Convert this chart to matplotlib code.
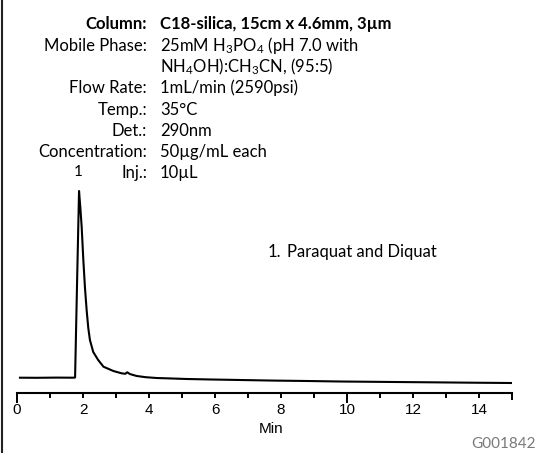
import matplotlib
matplotlib.use("Agg")
import matplotlib.pyplot as plt
from matplotlib.lines import Line2D

# chromatogram trace (time in min, signal in arbitrary units)
time_min = [0.09, 0.6, 1.2, 1.70, 1.76, 1.82, 1.88, 1.92, 1.96, 2.01, 2.06, 2.11, 2.16,
            2.21, 2.31, 2.46, 2.62, 2.78, 2.92, 3.05, 3.17, 3.28, 3.34, 3.42, 3.52,
            3.63, 3.9, 4.23, 4.7, 5.14, 5.9, 6.76, 7.8, 8.8, 9.79, 11.1, 12.5, 13.8, 14.97]
signal = [15.3, 15.2, 15.4, 15.3, 15.5, 110, 202, 185, 166, 133, 105, 83, 65,
          53, 41, 33, 26.3, 24, 22, 20.8, 19.7, 19.2, 20.7, 19.0, 18.0,
          17.0, 15.8, 15.0, 14.5, 14.0, 13.5, 13.0, 12.4, 12.0, 11.5, 11.1, 10.7, 10.3, 10.0]

peak_time = 1.85
peak_label = "1"

cond_labels = ["Column:", "Mobile Phase:", "", "Flow Rate:", "Temp.:", "Det.:",
               "Concentration:", "Inj.:"]
cond_values = ["C18-silica, 15cm x 4.6mm, 3µm",
               r"25mM H$_3$PO$_4$ (pH 7.0 with",
               r"NH$_4$OH):CH$_3$CN, (95:5)",
               "1mL/min (2590psi)", "35°C", "290nm", "50µg/mL each", "10µL"]

compounds = ["Paraquat and Diquat"]
fig_code = "G001842"

W, H = 539, 453
plt.rcParams["mathtext.fontset"] = "custom"
plt.rcParams["mathtext.rm"] = "Lato"
plt.rcParams["mathtext.it"] = "Lato:italic"
plt.rcParams["mathtext.bf"] = "Lato:bold"

fig = plt.figure(figsize=(W / 100, H / 100), dpi=100)


def px(x, y):
    # pixel position (from top-left) -> figure fraction
    return x / W, 1 - y / H


# axes: x 0..15 spans 17..512 px, bottom spine at y=393 px, 1 unit = 1 px
ax = fig.add_axes([17 / W, (H - 393) / H, 495 / W, 373 / H])
ax.plot(time_min, signal, color="black", lw=1.5)
ax.set_xlim(0, 15)
ax.set_ylim(0, 373)
for s in ["top", "right", "left"]:
    ax.spines[s].set_visible(False)
ax.spines["bottom"].set_linewidth(1.5)
ax.set_yticks([])
ax.set_xticks(range(0, 15, 2))
ax.set_xticks(range(1, 16, 2), minor=True)
ax.tick_params(axis="x", which="both", direction="out", length=3.5, width=1.4,
               pad=4.0, labelsize=11)
for lab in ax.get_xticklabels():
    lab.set_fontfamily("Liberation Sans")
# longer ticks at 0, 10 and the end of the axis
for t in ax.xaxis.get_major_ticks():
    if t.get_loc() in (0, 10):
        t.tick1line.set_markersize(7)
for t in ax.xaxis.get_minor_ticks():
    if t.get_loc() == 15:
        t.tick1line.set_markersize(5)

ax.text(peak_time, 202 + 12, peak_label, ha="center", va="bottom", fontsize=11,
        family="Lato")

# run conditions block
base_y = 29.3
step = 21.3
for i, (lab, val) in enumerate(zip(cond_labels, cond_values)):
    y = base_y + i * step
    weight = "bold" if i == 0 else "normal"
    if lab:
        fig.text(*px(147, y), lab, ha="right", va="baseline", fontsize=12,
                 family="Lato", weight=weight)
    fig.text(*px(160, y), val, ha="left", va="baseline", fontsize=12,
             family="Lato", weight=weight)

fig.text(*px(268, 257), "1.", ha="left", va="baseline", fontsize=12, family="Lato")
fig.text(*px(287, 257), compounds[0], ha="left", va="baseline", fontsize=12,
         family="Lato")

fig.text(*px(271, 433), "Min", ha="center", va="baseline", fontsize=11,
         family="Liberation Sans")
fig.text(*px(536, 448), fig_code, ha="right", va="baseline", fontsize=11,
         family="Lato", color="#7a7a7a")

# left border of the original figure frame
fig.add_artist(Line2D([2 / W, 2 / W], [0, 1], color="#222222", lw=1.5,
                      transform=fig.transFigure))

fig.savefig("out.png", dpi=100)
